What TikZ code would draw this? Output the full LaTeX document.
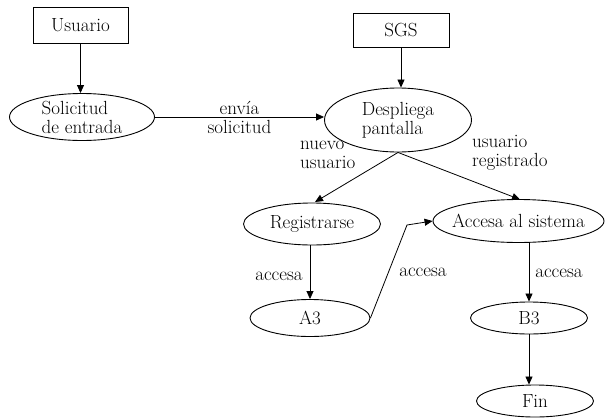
\documentclass[tikz,border=0pt]{standalone}
\usetikzlibrary{shapes.geometric,arrows.meta}
\begin{document}
\begin{tikzpicture}[x=1pt,y=-1pt,
  font=\fontsize{19}{19}\selectfont,
  every node/.style={inner sep=0pt},
  every label/.style={inner sep=0pt,align=left},
  boxnode/.style={draw,line width=0.9pt,rectangle},
  ellnode/.style={draw,line width=0.9pt,ellipse},
  lbl/.style={align=left},
  arr/.style={line width=0.8pt,-{Triangle[length=8pt,width=7pt]}}]
\useasboundingbox (0,0) rectangle (610,418);
\node[boxnode,minimum width=95pt,minimum height=36pt] (usuario) at (80.5,25) {Usuario};
\node[boxnode,minimum width=96pt,minimum height=34pt] (sgs) at (401,30) {SGS};
\node[ellnode,minimum width=145pt,minimum height=47pt,label={center:Solicitud\\de entrada}] (solicitud) at (82,117) {};
\node[ellnode,minimum width=147pt,minimum height=64pt,label={center:Despliega\\pantalla}] (despliega) at (398,120) {};
\node[ellnode,minimum width=137pt,minimum height=42pt,label={center:Registrarse}] (registrarse) at (312,224) {};
\node[ellnode,minimum width=171pt,minimum height=43pt,label={center:Accesa al sistema}] (accesa) at (518.5,221) {};
\node[ellnode,minimum width=120pt,minimum height=37pt,label={center:A3}] (a3) at (310,318) {};
\node[ellnode,minimum width=117pt,minimum height=32pt,label={center:B3}] (b3) at (529,318) {};
\node[ellnode,minimum width=117pt,minimum height=32pt,label={center:Fin}] (fin) at (535,401) {};
\coordinate (bend) at (407,225);
\draw[arr] (usuario.south) -- (usuario.south |- solicitud.north);
\draw[arr] (sgs.south) -- (sgs.south |- despliega.north);
\draw[arr] (solicitud.east) -- (solicitud.east -| despliega.west)
  node[midway,align=center] {envía\\solicitud};
\draw[arr] (despliega.south) -- (315,202);
\draw[arr] (despliega.south) -- (520,199.5);
\draw[arr] (registrarse.south -| a3.north) -- (a3.north);
\draw[arr] (a3.east) -- (bend) -- (accesa.west);
\draw[arr] (b3.north |- accesa.south) -- (b3.north);
\draw[arr] (b3.south) -- (b3.south |- fin.north);
\node[lbl,anchor=west] (lnuevo) at (300,155) {nuevo\\usuario};
\node[lbl,anchor=west] (lreg) at (472,153) {usuario\\registrado};
\node (lacc1) at (279,276) {accesa};
\node (lacc2) at (423,272) {accesa};
\node (lacc3) at (559,273) {accesa};
\end{tikzpicture}
\end{document}
